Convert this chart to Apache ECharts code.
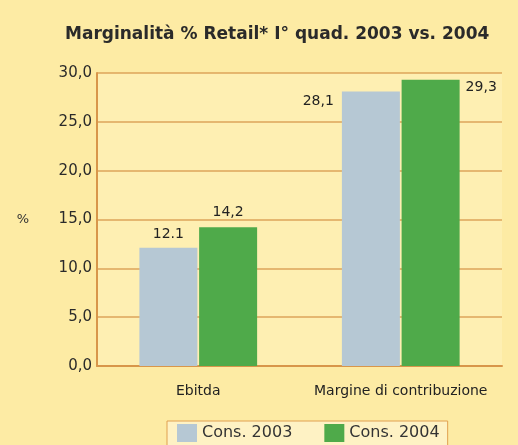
<!DOCTYPE html>
<html>
<head>
<meta charset="utf-8">
<script src="https://cdn.jsdelivr.net/npm/echarts@6/dist/echarts.min.js"></script>
<style>
html,body{margin:0;padding:0;background:#FDEBA4;}
#c{width:518px;height:445px;}
</style>
</head>
<body>
<div id="c"></div>
<script>
const categories = ["Ebitda", "Margine di contribuzione"];
const cons2003 = [12.1, 28.1];
const cons2004 = [14.2, 29.3];
const labels2003 = ["12.1", "28,1"];
const labels2004 = ["14,2", "29,3"];
const seriesNames = ["Cons. 2003", "Cons. 2004"];
const yTicks = [0, 5, 10, 15, 20, 25, 30];

const chart = echarts.init(document.getElementById('c'));
const fontFam = '"DejaVu Sans", "Liberation Sans", sans-serif';

function mkData(vals, labs, positions) {
  return vals.map((v, i) => ({ value: v, label: Object.assign({ formatter: labs[i] }, positions[i]) }));
}

chart.setOption({
  backgroundColor: '#FDEBA4',
  animation: false,
  title: {
    text: 'Marginalità % Retail* I° quad. 2003 vs. 2004',
    left: 60, top: 21,
    textStyle: { fontFamily: fontFam, fontSize: 17, fontWeight: 'bold', color: '#2a2a2a' }
  },
  grid: { left: 97, top: 73, right: 16, bottom: 79, show: true, backgroundColor: '#FEEFB2', borderWidth: 0 },
  legend: {
    data: seriesNames,
    left: 167, top: 421,
    icon: 'rect',
    itemWidth: 20, itemHeight: 18, itemGap: 32,
    padding: [3, 8, 6, 10],
    borderColor: '#E0A050', borderWidth: 1,
    backgroundColor: '#FEF2C4',
    textStyle: { fontFamily: fontFam, fontSize: 16, color: '#333' }
  },
  xAxis: {
    type: 'category',
    data: categories,
    axisLine: { lineStyle: { color: '#D8964A', width: 2 } },
    axisTick: { show: false },
    axisLabel: { interval: 0, fontFamily: fontFam, fontSize: 14, color: '#222', margin: 18 }
  },
  yAxis: {
    type: 'value',
    min: 0, max: 30, interval: 5,
    name: '%',
    nameLocation: 'middle',
    nameRotate: 0,
    nameGap: 68,
    nameTextStyle: { fontFamily: fontFam, fontSize: 13, color: '#333' },
    axisLine: { show: true, lineStyle: { color: '#D8964A', width: 2 } },
    axisTick: { show: false },
    splitLine: { lineStyle: { color: '#DDA55A', width: 1.5 } },
    axisLabel: {
      fontFamily: fontFam, fontSize: 15, color: '#2a2a2a', margin: 5,
      formatter: v => yTicks.includes(v) ? v.toFixed(1).replace('.', ',') : ''
    }
  },
  series: [
    {
      name: seriesNames[0], type: 'bar', barWidth: 58, barGap: '3%',
      itemStyle: { color: '#B6C8D4' },
      label: { show: true, fontFamily: fontFam, fontSize: 14, color: '#222' },
      data: mkData(cons2003, labels2003, [
        { position: 'top', distance: 6 },
        { position: [-8, 3], align: 'right', verticalAlign: 'top' }
      ])
    },
    {
      name: seriesNames[1], type: 'bar', barWidth: 58,
      itemStyle: { color: '#4FAA4A' },
      label: { show: true, fontFamily: fontFam, fontSize: 14, color: '#222' },
      data: mkData(cons2004, labels2004, [
        { position: 'top', distance: 8 },
        { position: ['100%', 0], offset: [6, 1], align: 'left', verticalAlign: 'top' }
      ])
    }
  ]
});
</script>
</body>
</html>
